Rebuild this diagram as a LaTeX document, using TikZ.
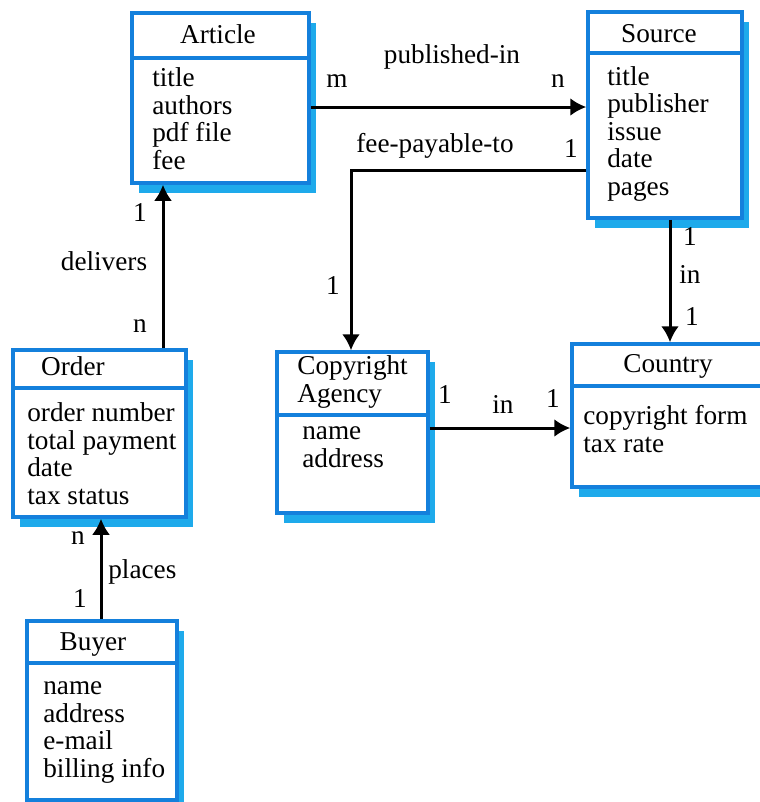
\documentclass[tikz,border=0pt]{standalone}
\usepackage{fontspec}
\setmainfont{Liberation Serif}
\usetikzlibrary{fit}
\usetikzlibrary{shadows}
\usetikzlibrary{arrows.meta}
\definecolor{boxblue}{RGB}{20,128,220}
\definecolor{shadeblue}{RGB}{30,170,235}
\tikzset{
entity/.style={draw=boxblue,line width=0.07cm,fill=white,inner sep=0pt,
  drop shadow={shadow xshift=0.14cm,shadow yshift=-0.19cm,fill=shadeblue,opacity=1}},
divider/.style={draw=boxblue,line width=0.07cm},
txt/.style={font=\fontsize{15.5}{15.65}\selectfont,text=black,inner sep=0pt},
attrs/.style={txt,align=left,anchor=base west},% base = last line
rel/.style={black,line width=0.06cm,-{Latex[length=0.32cm,width=0.36cm]}},
}
\begin{document}
\begin{tikzpicture}[x=0.02cm,y=-0.02cm]
\useasboundingbox (0,0) rectangle (760,802);

% entity boxes
\node[entity,fit={(132,13) (309,183)}] (article) {};
\node[entity,fit={(588,12) (742,218)}] (source) {};
\node[entity,fit={(13,350) (186,517)}] (order) {};
\node[entity,fit={(277,352) (428,513)}] (agency) {};
\node[entity,fit={(572,344) (772,487)}] (country) {};
\node[entity,fit={(27,621) (177,800)}] (buyer) {};

\draw[divider] (132,58) -- (309,58);
\draw[divider] (588,53) -- (742,53);
\draw[divider] (13,388) -- (186,388);
\draw[divider] (277,415) -- (428,415);
\draw[divider] (572,386) -- (772,386);
\draw[divider] (27,663) -- (177,663);

% titles
\node[txt,anchor=base] (articleTitle) at (218,43) {Article};
\node[txt,anchor=base] (sourceTitle) at (659,42) {Source};
\node[txt,anchor=base] (orderTitle) at (73,375) {Order};
\node[attrs] (agencyTitle) at (297,402) {Copyright\\Agency};
\node[txt,anchor=base] (countryTitle) at (668,372) {Country};
\node[txt,anchor=base] (buyerTitle) at (93,650) {Buyer};

% attributes
\node[attrs] (articleAttrs) at (152,169) {title\\authors\\pdf file\\fee};
\node[attrs] (sourceAttrs) at (607,195) {title\\publisher\\issue\\date\\pages};
\node[attrs] (orderAttrs) at (27,504) {order number\\total payment\\date\\tax status};
\node[attrs] (agencyAttrs) at (302,467) {name\\address};
\node[attrs] (countryAttrs) at (583,452) {copyright form\\tax rate};
\node[attrs] (buyerAttrs) at (43,777) {name\\address\\e-mail\\billing info};

% relationships
\draw[rel] (article.east |- 0,107) -- (source.west |- 0,107);
\draw[rel] (source.west |- 0,170) -| (agency.north -| 351,0);
\draw[rel] (source.south -| 670,0) -- (country.north -| 670,0);
\draw[rel] (agency.east |- 0,428) -- (country.west |- 0,428);
\draw[rel] (order.north -| 163,0) -- (article.south -| 163,0);
\draw[rel] (buyer.north -| 101,0) -- (order.south -| 101,0);

% cardinalities and names
\node[txt,anchor=base] (pubName) at (452,63) {published-in};
\node[txt,anchor=base] (pubM) at (337,87) {m};
\node[txt,anchor=base] (pubN) at (558,87) {n};
\node[txt,anchor=base] (feeName) at (435,152) {fee-payable-to};
\node[txt,anchor=base] (feeOne) at (571,157) {1};
\node[txt,anchor=base] (feeTwo) at (333,294) {1};
\node[txt,anchor=base] (srcInOne) at (690,245) {1};
\node[txt,anchor=base] (srcIn) at (690,283) {in};
\node[txt,anchor=base] (srcInTwo) at (692,325) {1};
\node[txt,anchor=base] (agInOne) at (445,403) {1};
\node[txt,anchor=base] (agIn) at (503,413) {in};
\node[txt,anchor=base] (agInTwo) at (553,407) {1};
\node[txt,anchor=base] (delOne) at (140,221) {1};
\node[txt,anchor=base] (delName) at (104,270) {delivers};
\node[txt,anchor=base] (delN) at (140,332) {n};
\node[txt,anchor=base] (plN) at (78,544) {n};
\node[txt,anchor=base west] (plName) at (108,578) {places};
\node[txt,anchor=base] (plOne) at (80,607) {1};
\end{tikzpicture}
\end{document}
